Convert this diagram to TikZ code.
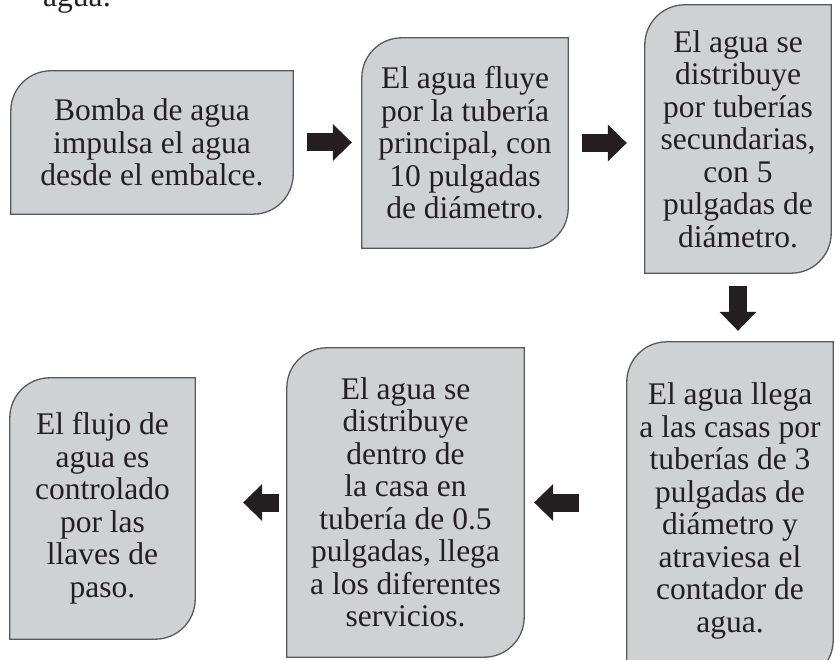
\documentclass[tikz,border=0pt]{standalone}
\usepackage{fontspec}
\setmainfont{Liberation Serif}
\usepackage{xcolor}
\usetikzlibrary{arrows.meta,backgrounds,calc}
\definecolor{grisrelleno}{HTML}{D0D1D3}
\definecolor{grisborde}{HTML}{58595B}
\definecolor{tinta}{HTML}{231F20}

\begin{document}
\begin{tikzpicture}[x=1pt,y=1pt,
  caja/.style={inner sep=0pt,align=center,text=tinta,font=\fontsize{31.5}{32.5}\selectfont},
  borde/.style={fill=grisrelleno,draw=grisborde,line width=1.3pt},
  flecha/.style={draw=tinta,line width=18pt,-{Triangle[width=37pt,length=19pt,line width=0pt]}}]
  \clip (0,0) rectangle (835,659);
  \useasboundingbox (0,0) rectangle (835,659);

  \node[caja,anchor=base west] (titulo) at (43,652) {agua:};

  % fila de arriba
  \node[caja,minimum width=282pt,minimum height=143pt] (b1) at (152,516.5)
    {Bomba de agua\\impulsa el agua\\desde el embalce.};
  \node[caja,minimum width=206pt,minimum height=210pt] (b2) at (465,516)
    {El agua fluye\\por la tubería\\principal, con\\10 pulgadas\\de diámetro.};
  \node[caja,minimum width=186pt,minimum height=268pt] (b3) at (738,520)
    {El agua se\\distribuye\\por tuberías\\secundarias,\\con 5\\pulgadas de\\diámetro.};

  % fila de abajo
  \node[caja,minimum width=206pt,minimum height=338pt] (b4) at (730,148)
    {El agua llega\\a las casas por\\tuberías de 3\\pulgadas de\\diámetro y\\atraviesa el\\contador de\\agua.};
  \node[caja,minimum width=237pt,minimum height=309pt] (b5) at (405.5,156.5)
    {El agua se\\distribuye\\dentro de\\la casa en\\tubería de 0.5\\pulgadas, llega\\a los diferentes\\servicios.};
  \node[caja,minimum width=185pt,minimum height=261pt] (b6) at (102.5,150.5)
    {El flujo de\\agua es\\controlado\\por las\\llaves de\\paso.};

  \begin{scope}[on background layer]
    \foreach \n in {b1,b2,b3,b4,b5,b6}
      \draw[borde] (\n.south west) -- ([yshift=-40pt]\n.north west)
        arc[start angle=180,end angle=90,radius=40pt] -- (\n.north east)
        -- ([yshift=40pt]\n.south east)
        arc[start angle=0,end angle=-90,radius=40pt] -- cycle;
  \end{scope}

  \draw[flecha,shorten <=14pt,shorten >=10pt] (b1.east) -- (b2.west |- b1.east);
  \draw[flecha,shorten <=14pt,shorten >=18pt] (b2.east) -- (b3.west |- b2.east);
  \draw[flecha,shorten <=13pt,shorten >=11pt] (b3.south) -- (b3.south |- b4.north);
  \draw[flecha,shorten <=48pt,shorten >=10pt] (b4.west |- b5.east) -- (b5.east);
  \draw[flecha,shorten <=8pt,shorten >=48pt] (b5.west) -- (b6.east |- b5.west);
\end{tikzpicture}
\end{document}
